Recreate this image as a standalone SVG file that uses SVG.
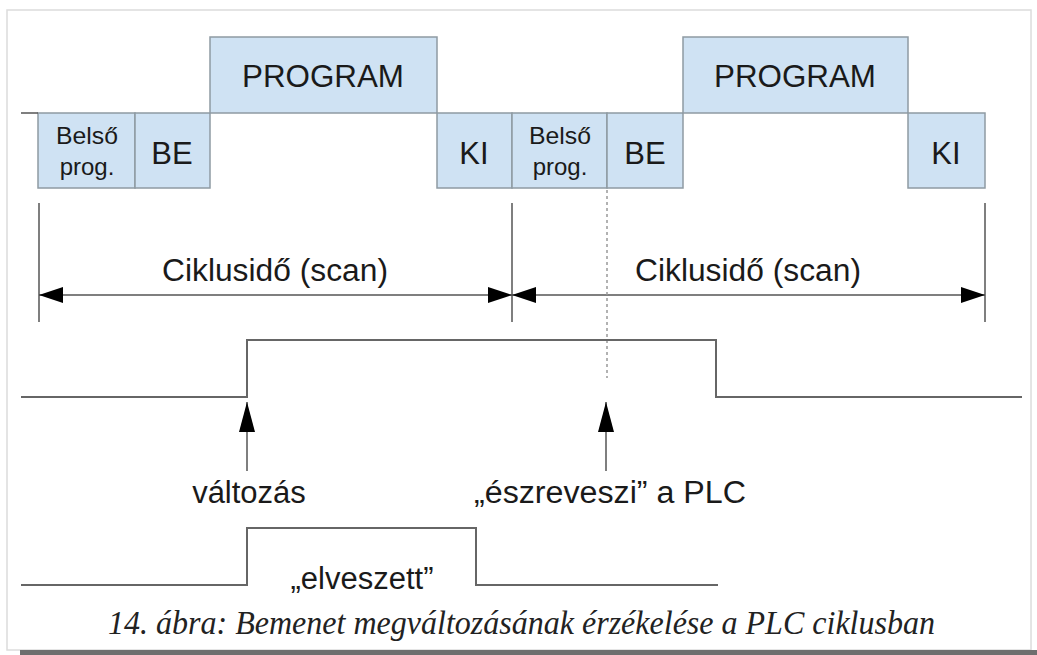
<svg xmlns="http://www.w3.org/2000/svg" width="1037" height="655" viewBox="0 0 1037 655">
  <style>
    .box { fill: #cfe2f3; stroke: #8f9aa3; stroke-width: 1.5; }
    .lbl { font-family: "Liberation Sans", Arial, sans-serif; font-size: 31px; fill: #1a1a1a; text-anchor: middle; }
    .small { font-family: "Liberation Sans", Arial, sans-serif; font-size: 24px; fill: #1a1a1a; text-anchor: middle; }
    .line { fill: none; stroke: #666; stroke-width: 2; }
    .tick { fill: none; stroke: #555; stroke-width: 1.5; }
    .cap { font-family: "Liberation Serif", "Times New Roman", serif; font-style: italic; font-size: 33px; fill: #222; }
  </style>
  <defs>
    <marker id="arr" viewBox="0 0 24 16" refX="24" refY="8" markerWidth="24" markerHeight="16" markerUnits="userSpaceOnUse" orient="auto-start-reverse">
      <path d="M0,0 L24,8 L0,16 Z" fill="#000"/>
    </marker>
    <marker id="up" viewBox="0 0 30 16" refX="30" refY="8" markerWidth="30" markerHeight="16" markerUnits="userSpaceOnUse" orient="auto">
      <path d="M0,0 L30,8 L0,16 Z" fill="#000"/>
    </marker>
  </defs>

  <!-- page frame -->
  <rect x="0" y="0" width="1037" height="655" fill="#fff"/>
  <rect x="7" y="10" width="1024" height="640" fill="#fff" stroke="#dcdcdc" stroke-width="1.5"/>
  <rect x="20" y="650" width="1017" height="5" fill="#6e6e6e"/>

  <!-- first scan cycle -->
  <g id="belso1">
    <rect class="box" x="38" y="113" width="97" height="75"/>
    <text class="small" x="87" y="144" textLength="62" lengthAdjust="spacingAndGlyphs">Belső</text>
    <text class="small" x="87" y="175">prog.</text>
  </g>
  <g id="be1">
    <rect class="box" x="135" y="113" width="75" height="75"/>
    <text class="lbl" x="172" y="164">BE</text>
  </g>
  <g id="program1">
    <rect class="box" x="210" y="37" width="227" height="76"/>
    <text class="lbl" x="323" y="87" textLength="162" lengthAdjust="spacingAndGlyphs">PROGRAM</text>
  </g>
  <g id="ki1">
    <rect class="box" x="437" y="113" width="75" height="75"/>
    <text class="lbl" x="474" y="164">KI</text>
  </g>

  <!-- second scan cycle -->
  <g id="belso2">
    <rect class="box" x="512" y="113" width="95" height="75"/>
    <text class="small" x="560" y="144" textLength="62" lengthAdjust="spacingAndGlyphs">Belső</text>
    <text class="small" x="560" y="175">prog.</text>
  </g>
  <g id="be2">
    <rect class="box" x="607" y="113" width="76" height="75"/>
    <text class="lbl" x="645" y="164">BE</text>
  </g>
  <g id="program2">
    <rect class="box" x="683" y="37" width="225" height="76"/>
    <text class="lbl" x="795" y="87" textLength="162" lengthAdjust="spacingAndGlyphs">PROGRAM</text>
  </g>
  <g id="ki2">
    <rect class="box" x="908" y="113" width="77" height="75"/>
    <text class="lbl" x="946" y="164">KI</text>
  </g>

  <!-- cycle time labels -->
  <g id="scan1"><text class="lbl" x="275" y="281" textLength="226" lengthAdjust="spacingAndGlyphs">Ciklusidő (scan)</text></g>
  <g id="scan2"><text class="lbl" x="748" y="281" textLength="226" lengthAdjust="spacingAndGlyphs">Ciklusidő (scan)</text></g>

  <!-- signal labels -->
  <g id="valtozas"><text class="lbl" x="249" y="503">változás</text></g>
  <g id="eszreveszi"><text class="lbl" x="610" y="503" textLength="272" lengthAdjust="spacingAndGlyphs">„észreveszi” a PLC</text></g>
  <g id="elveszett"><text class="lbl" x="362" y="589">„elveszett”</text></g>

  <g id="connectors">
    <!-- timeline base -->
    <line class="tick" x1="21" y1="113" x2="38" y2="113"/>
    <!-- dimension ticks -->
    <line class="tick" x1="39" y1="203" x2="39" y2="322"/>
    <line class="tick" x1="512" y1="203" x2="512" y2="322"/>
    <line class="tick" x1="985" y1="203" x2="985" y2="322"/>
    <!-- dimension arrows -->
    <line class="tick" x1="39" y1="295" x2="512" y2="295" marker-start="url(#arr)" marker-end="url(#arr)"/>
    <line class="tick" x1="512" y1="295" x2="985" y2="295" marker-start="url(#arr)" marker-end="url(#arr)"/>
    <!-- sampling instant -->
    <line x1="607" y1="190" x2="607" y2="378" stroke="#999" stroke-width="1.5" stroke-dasharray="3,3"/>
    <!-- input signal detected -->
    <polyline class="line" points="21,397 247,397 247,340 716,340 716,397 1022,397"/>
    <!-- input signal lost -->
    <polyline class="line" points="21,585 247,585 247,528 476,528 476,585 718,585"/>
    <!-- event arrows -->
    <line class="tick" x1="247" y1="471" x2="247" y2="402" marker-end="url(#up)"/>
    <line class="tick" x1="606" y1="471" x2="606" y2="402" marker-end="url(#up)"/>
  </g>

  <text class="cap" x="108" y="634" textLength="827" lengthAdjust="spacingAndGlyphs">14. ábra: Bemenet megváltozásának érzékelése a PLC ciklusban</text>
</svg>
